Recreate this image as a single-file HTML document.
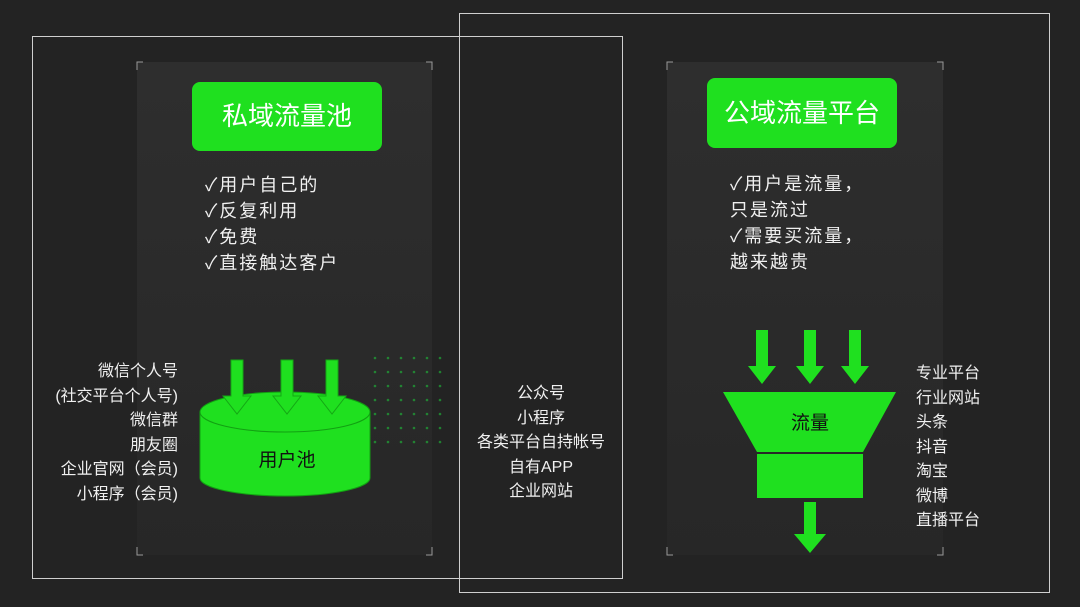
<!DOCTYPE html>
<html><head><meta charset="utf-8"><style>
body{margin:0;width:1080px;height:607px;background:#232323;overflow:hidden;position:relative;font-family:"Liberation Sans","Noto Sans CJK SC",sans-serif;color:#fff}
.a{position:absolute}
.panel{position:absolute;background:linear-gradient(#2e2e2e,#272727);}
.t{position:absolute;font-size:16px;line-height:24.5px;color:#f0f0f0}
.btn{position:absolute;background:#1fe01f;border-radius:8px;color:#fff;font-size:26px;text-align:center}
</style></head><body>
<div class="panel" style="left:137px;top:62px;width:295px;height:493px"></div>
<div class="panel" style="left:667px;top:62px;width:276px;height:493px"></div>
<div class="a" style="left:32px;top:36px;width:589px;height:541px;border:1px solid #cfcfcf"></div>
<div class="a" style="left:459px;top:13px;width:589px;height:578px;border:1px solid #cfcfcf"></div>
<div class="btn" style="left:192px;top:82px;width:190px;height:69px;line-height:69px">私域流量池</div>
<div class="btn" style="left:707px;top:78px;width:190px;height:70px;line-height:70px">公域流量平台</div>
<div class="t" style="left:205px;top:172px;font-size:18px;line-height:26px;letter-spacing:2px">✓用户自己的<br>✓反复利用<br>✓免费<br>✓直接触达客户</div>
<div class="t" style="left:730px;top:171px;font-size:18px;line-height:26px;letter-spacing:2px">✓用户是流量，<br>只是流过<br>✓需要买流量，<br>越来越贵</div>
<div class="t" style="left:36px;top:360px;width:142px;text-align:right">微信个人号<br>(社交平台个人号)<br>微信群<br>朋友圈<br>企业官网（会员)<br>小程序（会员)</div>
<div class="t" style="left:470px;top:382px;width:142px;text-align:center">公众号<br>小程序<br>各类平台自持帐号<br>自有APP<br>企业网站</div>
<div class="t" style="left:916px;top:362px">专业平台<br>行业网站<br>头条<br>抖音<br>淘宝<br>微博<br>直播平台</div>
<svg class="a" style="left:0;top:0" width="1080" height="607">
<g fill="#1fbf3a" opacity="0.6">
<g id="d"><circle cx="375" cy="358" r="1.3"/><circle cx="388" cy="358" r="1.3"/><circle cx="401" cy="358" r="1.3"/><circle cx="414" cy="358" r="1.3"/><circle cx="427" cy="358" r="1.3"/><circle cx="440" cy="358" r="1.3"/></g>
<use href="#d" y="14"/><use href="#d" y="28"/><use href="#d" y="42"/><use href="#d" y="56"/><use href="#d" y="70"/><use href="#d" y="84"/>
</g>
<g fill="#1fe01f" stroke="#12a012" stroke-width="1">
<path d="M200 412 L200 478 A85 18 0 0 0 370 478 L370 412 Z"/>
<ellipse cx="285" cy="412" rx="85" ry="20"/>
</g>
<g fill="#1fe01f" stroke="#14a814" stroke-width="1">
<path d="M231 360h12v36h8l-14 18l-14-18h8z"/>
<path d="M281 360h12v36h8l-14 18l-14-18h8z"/>
<path d="M326 360h12v36h8l-14 18l-14-18h8z"/>
</g>
<g fill="#1fe01f">
<path d="M756 330h12v36h8l-14 18l-14-18h8z"/>
<path d="M804 330h12v36h8l-14 18l-14-18h8z"/>
<path d="M849 330h12v36h8l-14 18l-14-18h8z"/>
<path d="M723 392H896L863 452H757Z"/>
<rect x="757" y="454" width="106" height="44"/>
<path d="M804 502h12v32h10l-16 19l-16-19h10z"/>
</g>
<text x="287" y="466" font-size="19" text-anchor="middle" fill="#111" font-family="Liberation Sans,Noto Sans CJK SC,sans-serif">用户池</text>
<text x="810" y="429" font-size="19" text-anchor="middle" fill="#111" font-family="Liberation Sans,Noto Sans CJK SC,sans-serif">流量</text>
<g stroke="#999" fill="none" stroke-width="1">
<path d="M137 70v-8h6M432 70v-8h-6M137 547v8h6M432 547v8h-6"/>
<path d="M667 70v-8h6M943 70v-8h-6M667 547v8h6M943 547v8h-6"/>
</g>
</svg>
</body></html>
